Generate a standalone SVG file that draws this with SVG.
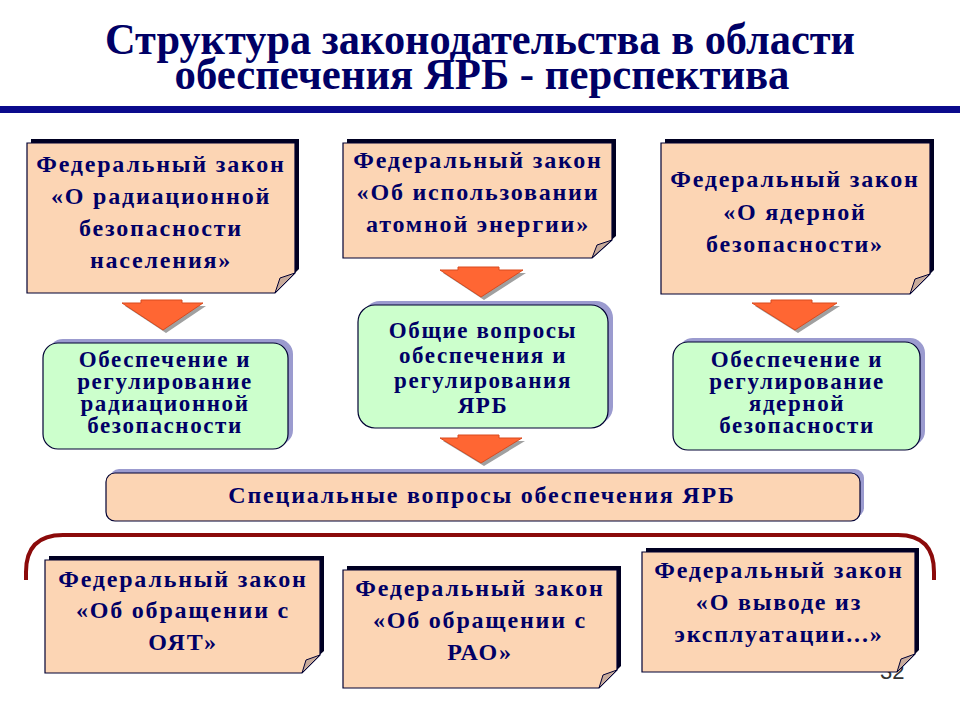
<svg xmlns="http://www.w3.org/2000/svg" width="960" height="720" viewBox="0 0 960 720">
<rect width="960" height="720" fill="#ffffff"/>

<g id="title">
<text font-family="Liberation Serif" font-weight="bold" font-size="45" fill="#000066" text-anchor="middle" x="480" y="54" textLength="750" lengthAdjust="spacingAndGlyphs">Структура законодательства в области</text>
<text font-family="Liberation Serif" font-weight="bold" font-size="45" fill="#000066" text-anchor="middle" x="482" y="89" textLength="615" lengthAdjust="spacingAndGlyphs">обеспечения ЯРБ - перспектива</text>
<rect x="0" y="106" width="960" height="7" fill="#0a0a8c"/>
</g>

<g id="page-number">
<text x="880" y="679" font-family="Liberation Sans" font-size="22" fill="#333333">32</text>
</g>

<g id="connectors">
<path fill="#a0a0a0" d="M125 306 H144 V303 H185 V306 H206 L166 333 Z"/>
<path fill="#ff6633" stroke="#d94a1e" d="M122 303 H141 V300 H182 V303 H203 L163 330 Z"/>
<path fill="#a0a0a0" d="M443 273 H461 V270 H502 V273 H526 L484 300 Z"/>
<path fill="#ff6633" stroke="#d94a1e" d="M440 270 H458 V267 H499 V270 H523 L481 297 Z"/>
<path fill="#a0a0a0" d="M755 306 H774 V303 H815 V306 H840 L798 333 Z"/>
<path fill="#ff6633" stroke="#d94a1e" d="M752 303 H771 V300 H812 V303 H837 L795 330 Z"/>
<path fill="#a0a0a0" d="M443 441 H461 V438 H502 V441 H525 L484 466 Z"/>
<path fill="#ff6633" stroke="#d94a1e" d="M440 438 H458 V435 H499 V438 H522 L481 463 Z"/>
<path d="M26 580 V572 Q26 535 63 535 H898 Q934 535 934 572 V580" fill="none" stroke="#8b0a0a" stroke-width="4"/>
</g>

<g id="law-radiation">
<path fill="#000022" d="M31 139 H299 V269 L279 289 H31 Z"/>
<path fill="#fcd5b4" stroke="#000033" stroke-width="1.2" d="M27 143 H295 V273 L275 293 H27 Z"/>
<path fill="#c8ab9b" stroke="#000033" d="M295 273 L275 293 L280 278 Z"/>
<text font-family="Liberation Serif" font-weight="bold" font-size="24" letter-spacing="1.8" fill="#000066" text-anchor="middle" x="161" y="172">Федеральный закон</text>
<text font-family="Liberation Serif" font-weight="bold" font-size="24" letter-spacing="1.8" fill="#000066" text-anchor="middle" x="161" y="204">«О радиационной</text>
<text font-family="Liberation Serif" font-weight="bold" font-size="24" letter-spacing="1.8" fill="#000066" text-anchor="middle" x="161" y="236">безопасности</text>
<text font-family="Liberation Serif" font-weight="bold" font-size="24" letter-spacing="1.8" fill="#000066" text-anchor="middle" x="161" y="268">населения»</text>
</g>

<g id="law-atomic">
<path fill="#000022" d="M347 139 H616 V236 L596 254 H347 Z"/>
<path fill="#fcd5b4" stroke="#000033" stroke-width="1.2" d="M343 143 H612 V240 L592 258 H343 Z"/>
<path fill="#c8ab9b" stroke="#000033" d="M612 240 L592 258 L597 245 Z"/>
<text font-family="Liberation Serif" font-weight="bold" font-size="24" letter-spacing="1.8" fill="#000066" text-anchor="middle" x="478" y="168">Федеральный закон</text>
<text font-family="Liberation Serif" font-weight="bold" font-size="24" letter-spacing="1.8" fill="#000066" text-anchor="middle" x="478" y="200">«Об использовании</text>
<text font-family="Liberation Serif" font-weight="bold" font-size="24" letter-spacing="1.8" fill="#000066" text-anchor="middle" x="478" y="232">атомной энергии»</text>
</g>

<g id="law-nuclear">
<path fill="#000022" d="M665 139 H934 V270 L914 290 H665 Z"/>
<path fill="#fcd5b4" stroke="#000033" stroke-width="1.2" d="M661 143 H930 V274 L910 294 H661 Z"/>
<path fill="#c8ab9b" stroke="#000033" d="M930 274 L910 294 L915 279 Z"/>
<text font-family="Liberation Serif" font-weight="bold" font-size="24" letter-spacing="1.8" fill="#000066" text-anchor="middle" x="795" y="187">Федеральный закон</text>
<text font-family="Liberation Serif" font-weight="bold" font-size="24" letter-spacing="1.8" fill="#000066" text-anchor="middle" x="795" y="220">«О ядерной</text>
<text font-family="Liberation Serif" font-weight="bold" font-size="24" letter-spacing="1.8" fill="#000066" text-anchor="middle" x="795" y="252">безопасности»</text>
</g>

<g id="reg-radiation">
<rect fill="#9b9bcf" x="48" y="339" width="245" height="106" rx="15"/>
<rect fill="#ccffcc" stroke="#000033" stroke-width="1.2" x="43" y="343" width="245" height="106" rx="15"/>
<text font-family="Liberation Serif" font-weight="bold" font-size="23" letter-spacing="1.6" fill="#000066" text-anchor="middle" x="165" y="367">Обеспечение и</text>
<text font-family="Liberation Serif" font-weight="bold" font-size="23" letter-spacing="1.6" fill="#000066" text-anchor="middle" x="165" y="389">регулирование</text>
<text font-family="Liberation Serif" font-weight="bold" font-size="23" letter-spacing="1.6" fill="#000066" text-anchor="middle" x="165" y="411">радиационной</text>
<text font-family="Liberation Serif" font-weight="bold" font-size="23" letter-spacing="1.6" fill="#000066" text-anchor="middle" x="165" y="433">безопасности</text>
</g>

<g id="general">
<rect fill="#9b9bcf" x="363" y="301" width="250" height="123" rx="17"/>
<rect fill="#ccffcc" stroke="#000033" stroke-width="1.2" x="358" y="305" width="250" height="123" rx="17"/>
<text font-family="Liberation Serif" font-weight="bold" font-size="23" letter-spacing="1.6" fill="#000066" text-anchor="middle" x="483" y="338">Общие вопросы</text>
<text font-family="Liberation Serif" font-weight="bold" font-size="23" letter-spacing="1.6" fill="#000066" text-anchor="middle" x="483" y="363">обеспечения и</text>
<text font-family="Liberation Serif" font-weight="bold" font-size="23" letter-spacing="1.6" fill="#000066" text-anchor="middle" x="483" y="388">регулирования</text>
<text font-family="Liberation Serif" font-weight="bold" font-size="23" letter-spacing="1.6" fill="#000066" text-anchor="middle" x="483" y="413">ЯРБ</text>
</g>

<g id="reg-nuclear">
<rect fill="#9b9bcf" x="678" y="338" width="247" height="108" rx="15"/>
<rect fill="#ccffcc" stroke="#000033" stroke-width="1.2" x="673" y="342" width="247" height="108" rx="15"/>
<text font-family="Liberation Serif" font-weight="bold" font-size="23" letter-spacing="1.6" fill="#000066" text-anchor="middle" x="797" y="367">Обеспечение и</text>
<text font-family="Liberation Serif" font-weight="bold" font-size="23" letter-spacing="1.6" fill="#000066" text-anchor="middle" x="797" y="389">регулирование</text>
<text font-family="Liberation Serif" font-weight="bold" font-size="23" letter-spacing="1.6" fill="#000066" text-anchor="middle" x="797" y="411">ядерной</text>
<text font-family="Liberation Serif" font-weight="bold" font-size="23" letter-spacing="1.6" fill="#000066" text-anchor="middle" x="797" y="433">безопасности</text>
</g>

<g id="special">
<rect fill="#9b9bcf" x="110" y="469" width="754" height="48" rx="9"/>
<rect x="106" y="473" width="754" height="48" rx="9" fill="#fcd5b4" stroke="#000033" stroke-width="1.2"/>
<text font-family="Liberation Serif" font-weight="bold" font-size="24" letter-spacing="1.8" fill="#000066" text-anchor="middle" x="482" y="503">Специальные вопросы обеспечения ЯРБ</text>
</g>

<g id="law-snf">
<path fill="#000022" d="M49 556 H324 V651 L304 669 H49 Z"/>
<path fill="#fcd5b4" stroke="#000033" stroke-width="1.2" d="M45 560 H320 V655 L302 673 H45 Z"/>
<path fill="#c8ab9b" stroke="#000033" d="M320 655 L302 673 L306 660 Z"/>
<text font-family="Liberation Serif" font-weight="bold" font-size="24" letter-spacing="1.8" fill="#000066" text-anchor="middle" x="183" y="587">Федеральный закон</text>
<text font-family="Liberation Serif" font-weight="bold" font-size="24" letter-spacing="1.8" fill="#000066" text-anchor="middle" x="183" y="618">«Об обращении с</text>
<text font-family="Liberation Serif" font-weight="bold" font-size="24" letter-spacing="1.8" fill="#000066" text-anchor="middle" x="183" y="650">ОЯТ»</text>
</g>

<g id="law-rw">
<path fill="#000022" d="M347 566 H621 V666 L603 684 H347 Z"/>
<path fill="#fcd5b4" stroke="#000033" stroke-width="1.2" d="M343 570 H617 V670 L599 688 H343 Z"/>
<path fill="#c8ab9b" stroke="#000033" d="M617 670 L599 688 L603 675 Z"/>
<text font-family="Liberation Serif" font-weight="bold" font-size="24" letter-spacing="1.8" fill="#000066" text-anchor="middle" x="480" y="596">Федеральный закон</text>
<text font-family="Liberation Serif" font-weight="bold" font-size="24" letter-spacing="1.8" fill="#000066" text-anchor="middle" x="480" y="628">«Об обращении с</text>
<text font-family="Liberation Serif" font-weight="bold" font-size="24" letter-spacing="1.8" fill="#000066" text-anchor="middle" x="480" y="660">РАО»</text>
</g>

<g id="law-decom">
<path fill="#000022" d="M646 548 H919 V650 L901 668 H646 Z"/>
<path fill="#fcd5b4" stroke="#000033" stroke-width="1.2" d="M642 552 H915 V654 L897 672 H642 Z"/>
<path fill="#c8ab9b" stroke="#000033" d="M915 654 L897 672 L901 659 Z"/>
<text font-family="Liberation Serif" font-weight="bold" font-size="24" letter-spacing="1.8" fill="#000066" text-anchor="middle" x="779" y="578">Федеральный закон</text>
<text font-family="Liberation Serif" font-weight="bold" font-size="24" letter-spacing="1.8" fill="#000066" text-anchor="middle" x="779" y="610">«О выводе из</text>
<text font-family="Liberation Serif" font-weight="bold" font-size="24" letter-spacing="1.8" fill="#000066" text-anchor="middle" x="779" y="642">эксплуатации...»</text>
</g>
</svg>
